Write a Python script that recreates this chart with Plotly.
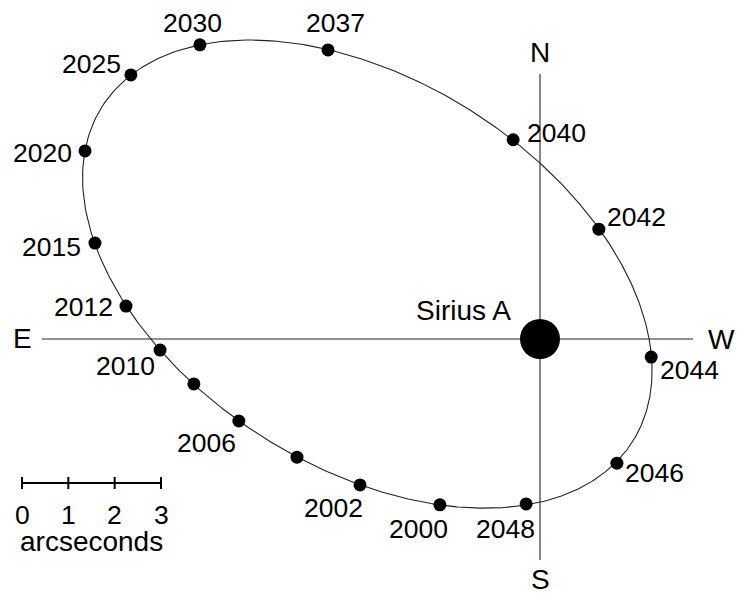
import numpy as np
import plotly.graph_objects as go

# Positions of Sirius B relative to Sirius A, in arcseconds (x = west offset, y = north offset)
years = [2000, 2002, 2004, 2006, 2008, 2010, 2012, 2015, 2020, 2025,
         2030, 2037, 2040, 2042, 2044, 2046, 2048]
west = [-2.16, -3.885, -5.245, -6.50, -7.47, -8.20, -8.935, -9.605, -9.82, -8.83,
        -7.34, -4.575, -0.58, 1.27, 2.40, 1.66, -0.30]
north = [-3.58, -3.15, -2.55, -1.77, -0.97, -0.24, 0.71, 2.07, 4.06, 5.70,
         6.35, 6.24, 4.30, 2.37, -0.39, -2.68, -3.56]

# Years that carry a date label, with label offsets in pixels (right, down)
labelled = {
    2000: (-21, 24), 2002: (-27, 23), 2006: (-32, 22), 2010: (-35, 16),
    2012: (-43, 1), 2015: (-43, 4), 2020: (-43, 2), 2025: (-39, -11),
    2030: (-7, -22), 2037: (7, -27), 2040: (43, -7), 2042: (38, -12),
    2044: (38, 13), 2046: (38, 10), 2048: (-21, 25),
}

# Scale bar ticks (arcseconds)
scale_ticks = [0, 1, 2, 3]

# Fit the orbit as a conic A x^2 + B xy + C y^2 + D x + E y = 1
xw = np.array(west)
yn = np.array(north)
M = np.column_stack([xw**2, xw * yn, yn**2, xw, yn])
A, B, C, D, E = np.linalg.lstsq(M, np.ones_like(xw), rcond=None)[0]
theta = np.linspace(0, 2 * np.pi, 721)
c, s = np.cos(theta), np.sin(theta)
qa = A * c**2 + B * c * s + C * s**2
qb = D * c + E * s
r = (-qb + np.sqrt(qb**2 + 4 * qa)) / (2 * qa)
orbit_x = r * c
orbit_y = r * s

FONT = "Liberation Sans, Arial, sans-serif"
YEAR_SIZE = 26.5
TEXT_SIZE = 28
PX = 139 / 3.0  # pixels per arcsecond
x_range = [-540 / PX, (741 - 540) / PX]
y_range = [(339 - 595) / PX, 339 / PX]

fig = go.Figure()

# Compass cross through Sirius A
fig.add_trace(go.Scatter(x=[-498 / PX, 153 / PX], y=[0, 0], mode="lines",
                         line=dict(color="#222", width=1.2), hoverinfo="skip"))
fig.add_trace(go.Scatter(x=[0, 0], y=[265 / PX, -221 / PX], mode="lines",
                         line=dict(color="#555", width=1.4), hoverinfo="skip"))

# Orbit
fig.add_trace(go.Scatter(x=orbit_x, y=orbit_y, mode="lines",
                         line=dict(color="#222", width=1.1), hoverinfo="skip"))

# Sirius B positions
fig.add_trace(go.Scatter(x=west, y=north, mode="markers",
                         marker=dict(color="black", size=13), text=[str(y) for y in years],
                         hoverinfo="text"))

# Sirius A
fig.add_trace(go.Scatter(x=[0], y=[0], mode="markers",
                         marker=dict(color="black", size=40), hoverinfo="skip"))

# Scale bar
bar_x0 = -518 / PX
bar_y = -144 / PX
tick_h = 6 / PX
fig.add_trace(go.Scatter(x=[bar_x0 + scale_ticks[0], bar_x0 + scale_ticks[-1]], y=[bar_y, bar_y],
                         mode="lines", line=dict(color="black", width=2), hoverinfo="skip"))
for t in scale_ticks:
    fig.add_trace(go.Scatter(x=[bar_x0 + t, bar_x0 + t], y=[bar_y - tick_h, bar_y + tick_h],
                             mode="lines", line=dict(color="black", width=2), hoverinfo="skip"))

annotations = []
for yr, xv, yv in zip(years, west, north):
    if yr in labelled:
        dx, dy = labelled[yr]
        annotations.append(dict(x=xv, y=yv, text=str(yr), showarrow=False,
                                xshift=dx, yshift=-dy, xanchor="center", yanchor="middle",
                                font=dict(family=FONT, size=YEAR_SIZE, color="black")))

for t in scale_ticks:
    annotations.append(dict(x=bar_x0 + t, y=bar_y, text=str(t), showarrow=False,
                            xshift=0, yshift=-32, xanchor="center", yanchor="middle",
                            height=22, valign="middle",
                            font=dict(family=FONT, size=YEAR_SIZE, color="black")))
annotations.append(dict(x=bar_x0 + 1.5, y=bar_y, text="arcseconds", showarrow=False,
                        xshift=0, yshift=-58, xanchor="center", yanchor="middle",
                        height=24, valign="middle",
                        font=dict(family=FONT, size=TEXT_SIZE, color="black")))

for txt, xv, yv in [("E", -518 / PX, 1 / PX), ("W", 181 / PX, 0),
                    ("N", 0, 287 / PX), ("S", 0, -240 / PX)]:
    annotations.append(dict(x=xv, y=yv, text=txt, showarrow=False,
                            xanchor="center", yanchor="middle",
                            height=22, valign="middle",
                            font=dict(family=FONT, size=TEXT_SIZE, color="black")))

annotations.append(dict(x=-77 / PX, y=29 / PX, text="Sirius A", showarrow=False,
                        xanchor="center", yanchor="middle",
                        font=dict(family=FONT, size=TEXT_SIZE, color="black")))

fig.update_layout(
    width=741, height=595,
    margin=dict(l=0, r=0, t=0, b=0),
    paper_bgcolor="white", plot_bgcolor="white",
    showlegend=False,
    xaxis=dict(range=x_range, visible=False, showgrid=False, zeroline=False, fixedrange=True),
    yaxis=dict(range=y_range, visible=False, showgrid=False, zeroline=False, fixedrange=True),
    annotations=annotations,
)

fig.write_html("out.html")
